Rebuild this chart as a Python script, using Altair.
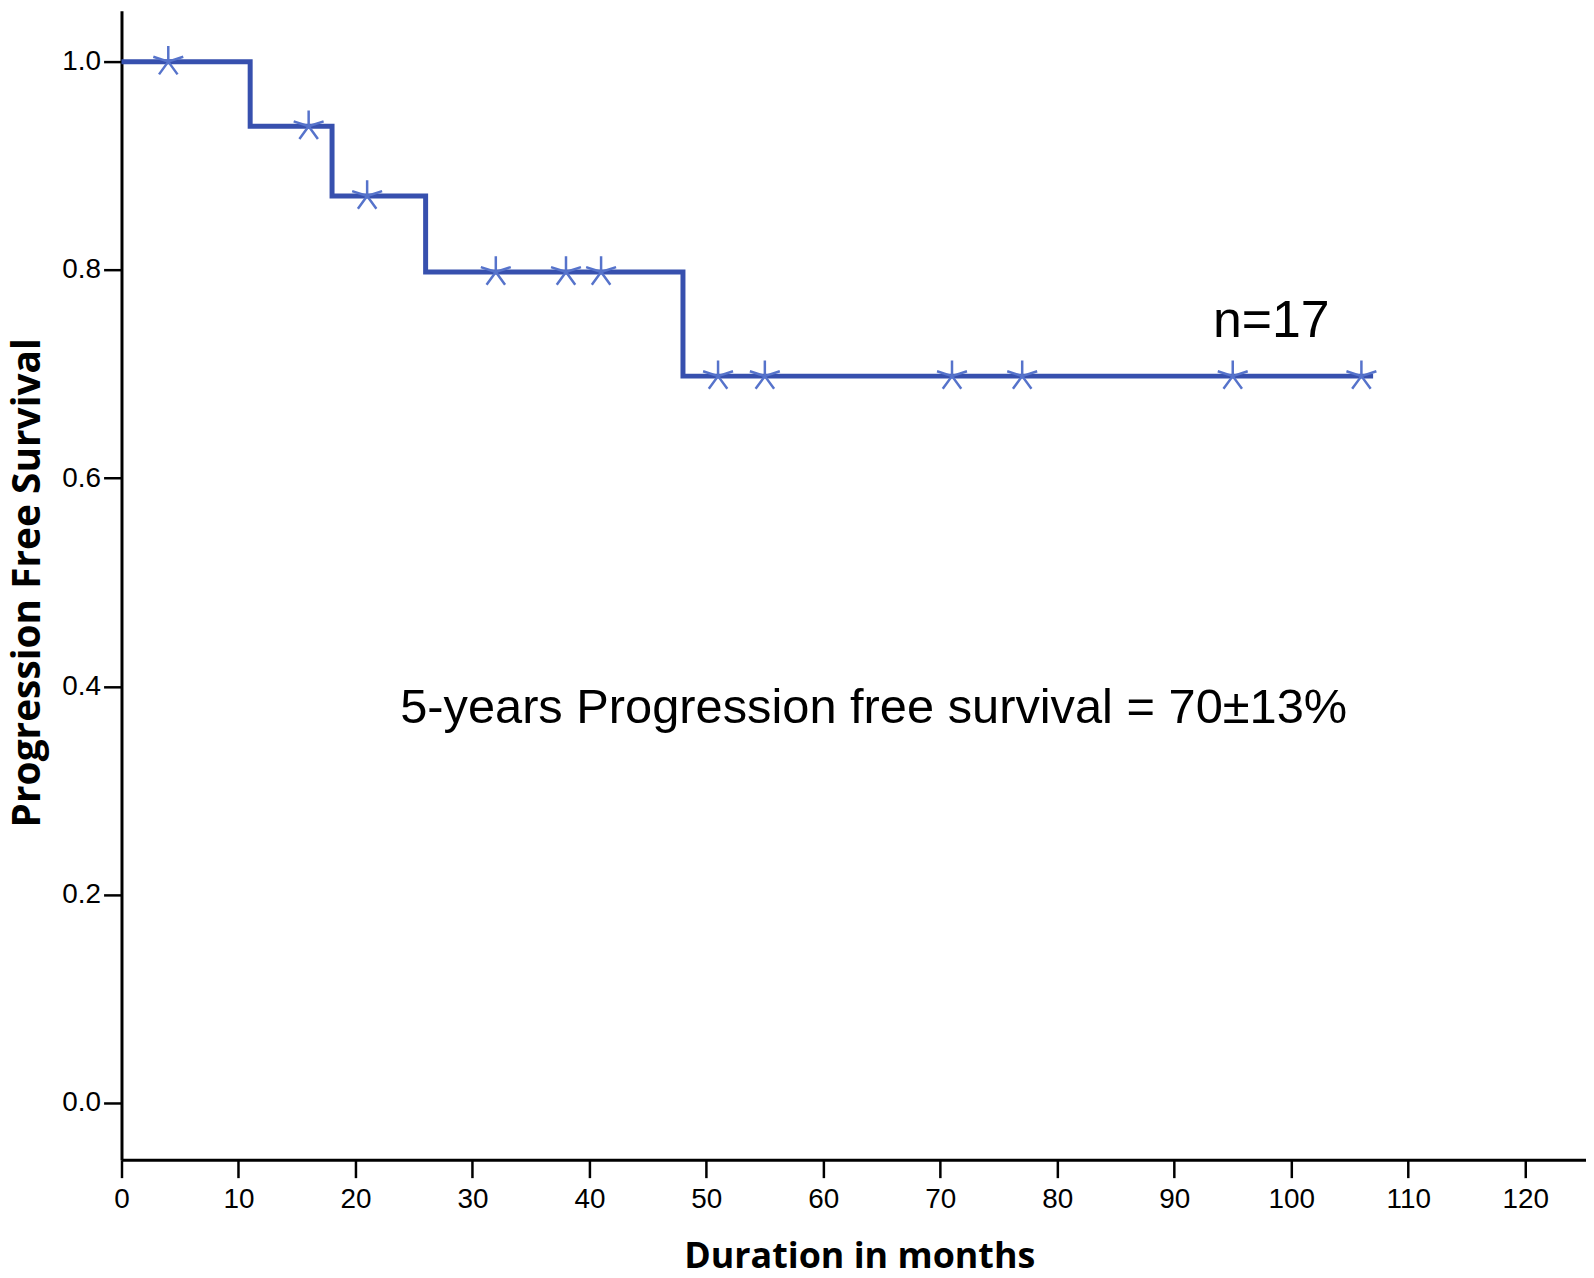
import altair as alt
import pandas as pd

# Kaplan-Meier steps
step_time = [0, 11, 18, 26, 48, 107]
step_surv = [1.0, 0.938, 0.871, 0.798, 0.698, 0.698]

# censored observations
cens_time = [4, 16, 21, 32, 38, 41, 51, 55, 71, 77, 95, 106]
cens_surv = [1.0, 0.938, 0.871, 0.798, 0.798, 0.798, 0.698, 0.698, 0.698, 0.698, 0.698, 0.698]

x_ticks = [0, 10, 20, 30, 40, 50, 60, 70, 80, 90, 100, 110, 120]
y_ticks = [0.0, 0.2, 0.4, 0.6, 0.8, 1.0]

n_label = ["n=17"]
n_x = [98.3]
n_y = [0.7357]
pfs_label = ["5-years Progression free survival = 70\u00b113%"]
pfs_x = [64.3]
pfs_y = [0.3652]

steps = pd.DataFrame({"x": step_time, "y": step_surv})
cens = pd.DataFrame({"x": cens_time, "y": cens_surv})
ntxt = pd.DataFrame({"x": n_x, "y": n_y, "label": n_label})
ptxt = pd.DataFrame({"x": pfs_x, "y": pfs_y, "label": pfs_label})

common_axis = dict(
    grid=False,
    domainColor="black", domainWidth=3,
    tickColor="black", tickWidth=2.5, tickSize=18,
    labelFont="Liberation Sans", labelFontSize=28, labelColor="black",
    labelFlush=False, labelOverlap=False,
    titleFont="Open Sans", titleFontWeight="bold", titleColor="black",
    titleBaseline="alphabetic", titleAlign="center",
)

X = alt.X("x:Q",
          scale=alt.Scale(domain=[0, 125.2], nice=False, zero=False),
          axis=alt.Axis(values=x_ticks, format="d", title="Duration in months",
                        labelPadding=8, titleFontSize=36, titleX=741, titleY=108,
                        **common_axis))
Y = alt.Y("y:Q",
          scale=alt.Scale(domain=[-0.0545, 1.0488], nice=False, zero=False),
          axis=alt.Axis(values=y_ticks, format=".1f", title="Progression Free Survival",
                        labelPadding=3, titleFontSize=39, titleAngle=270,
                        titleX=-82, titleY=574, **common_axis))

line = alt.Chart(steps).mark_line(
    interpolate="step-after", color="#3750AE", strokeWidth=5
).encode(x=X, y=Y)

star = "M0,0L0,-1M0,0L0.951,-0.309M0,0L0.588,0.809M0,0L-0.588,0.809M0,0L-0.951,-0.309"
points = alt.Chart(cens).mark_point(
    shape=star, size=1000, filled=False, strokeWidth=2.5, color="#5673CB", opacity=1
).encode(x=X, y=Y)

ntext = alt.Chart(ntxt).mark_text(
    font="Liberation Sans", fontSize=52, color="black", align="center", baseline="alphabetic"
).encode(x=X, y=Y, text="label:N")

ptext = alt.Chart(ptxt).mark_text(
    font="Liberation Sans", fontSize=49, color="black", align="center", baseline="alphabetic"
).encode(x=X, y=Y, text="label:N")

chart = alt.layer(line, points, ntext, ptext).properties(
    width=1471, height=1154,
    autosize=alt.AutoSizeParams(type="none"),
    padding={"left": 114, "top": 0, "right": 0, "bottom": 124},
    background="white",
).configure_view(stroke=None)

chart.save("out.html", embed_options={"renderer": "svg", "actions": False})
